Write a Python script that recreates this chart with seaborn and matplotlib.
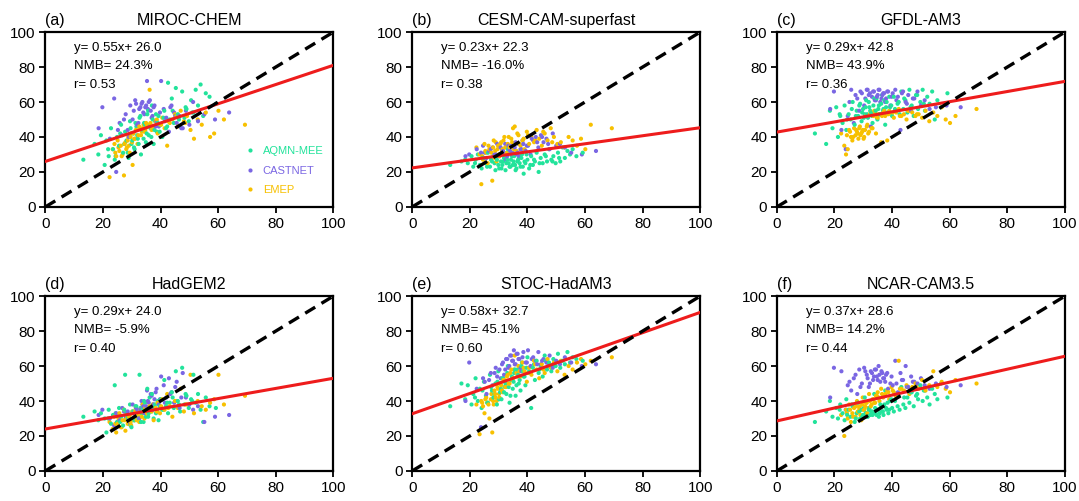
import numpy as np
import pandas as pd
import matplotlib
matplotlib.use("Agg")
import matplotlib.pyplot as plt
import seaborn as sns

# observed values (x), shared by all models
aq_x = [13.2, 17.1, 18.4, 19.3, 20.6, 21.2, 22.0, 22.8, 23.5, 24.1, 24.9, 25.6, 26.3, 27.0, 27.7,
        28.2, 28.9, 29.4, 29.9, 30.5, 31.0, 31.6, 32.1, 32.7, 33.2, 33.8, 34.3, 34.9, 35.4, 35.9,
        36.5, 37.0, 37.6, 38.1, 38.7, 39.3, 40.0, 40.6, 41.3, 41.9, 42.6, 43.2, 43.9, 44.6, 45.3,
        46.0, 46.8, 47.5, 48.3, 49.0, 49.8, 50.6, 51.4, 52.2, 53.0, 53.9, 54.8, 55.7, 57.0, 59.2]
aq_x2 = [21.8, 24.4, 26.0, 27.4, 28.6, 29.6, 30.2, 30.8, 31.3, 31.9, 32.4, 33.0, 33.5, 34.1, 34.6,
         35.2, 35.7, 36.2, 36.8, 37.3, 37.9, 38.4, 39.0, 39.7, 41.0, 42.3, 44.2, 46.4, 48.7, 51.0]
cn_x = [18.5, 19.8, 22.4, 23.9, 24.6, 25.8, 26.7, 27.9, 28.6, 29.5, 30.3, 31.2, 31.9, 32.6, 33.4,
        34.0, 34.7, 35.3, 35.9, 36.6, 37.2, 37.9, 38.6, 39.4, 40.2, 41.1, 42.0, 42.9, 43.8, 44.7,
        45.6, 46.6, 47.7, 48.8, 50.0, 51.3, 53.0, 55.2, 58.9, 63.8]
cn_x2 = [25.2, 27.3, 29.0, 30.7, 31.5, 32.3, 33.0, 33.7, 34.4, 35.0,
         35.6, 36.3, 36.9, 37.6, 38.3, 39.8, 41.5, 43.4, 45.1, 47.2]
em_x = [22.3, 23.4, 24.0, 24.6, 25.1, 25.7, 26.2, 26.8, 27.3, 27.8, 28.3, 28.8, 29.3, 29.8, 30.3,
        30.9, 31.4, 32.0, 32.6, 33.2, 33.8, 34.4, 35.0, 35.6, 36.2, 36.9, 37.6, 38.3, 39.0, 39.8,
        40.6, 41.4, 42.3, 43.2, 44.1, 45.0, 46.0, 47.0, 48.1, 49.2, 50.4, 51.6, 52.9, 54.3, 55.7,
        57.2, 58.6, 60.1, 62.0, 69.3]
em_x2 = [24.3, 25.4, 26.5, 27.5, 28.1, 28.6, 29.0, 29.6, 30.1, 30.6, 31.2, 31.7, 32.3,
         32.9, 33.5, 34.1, 34.7, 35.3, 36.5, 37.3, 38.7, 40.2, 42.7, 45.5, 48.6]

# modelled values (y) per model
aq_a = [27, 36, 30, 41, 24, 38, 29, 45, 33, 27, 40, 35, 47, 31, 43, 38, 28, 49, 36, 42,
        33, 46, 39, 51, 30, 44, 48, 37, 53, 41, 45, 58, 36, 49, 43, 52, 47, 40, 55, 45,
        71, 50, 62, 48, 68, 53, 46, 66, 51, 56, 49, 61, 54, 67, 58, 70, 52, 65, 63, 59]
aq_a2 = [33, 29, 42, 36, 31, 45, 38, 34, 48, 41, 36, 52, 44, 39, 47,
         42, 55, 46, 40, 50, 44, 53, 48, 43, 51, 46, 55, 50, 57, 54]
cn_a = [45, 57, 39, 62, 20, 48, 41, 53, 44, 58, 50, 61, 47, 56, 59, 54, 57, 72, 60, 55,
        52, 58, 49, 46, 72, 56, 51, 43, 58, 54, 48, 52, 45, 55, 47, 60, 49, 53, 50, 54]
cn_a2 = [44, 50, 40, 55, 59, 48, 57, 60, 53, 58, 56, 61, 51, 57, 46, 54, 49, 57, 52, 45]
em_a = [17, 33, 36, 29, 38, 32, 35, 30, 18, 37, 34, 40, 31, 42, 24, 39, 44, 36, 46, 41,
        45, 43, 48, 47, 67, 44, 46, 49, 42, 47, 51, 45, 35, 48, 50, 53, 46, 55, 49, 52,
        44, 39, 50, 47, 54, 40, 42, 55, 50, 47]
em_a2 = [31, 34, 29, 36, 33, 38, 35, 40, 37, 42, 39, 44, 41, 45, 43, 47, 44, 46, 48, 45,
         50, 47, 49, 52, 48]

aq_b = [24, 26, 27, 25, 29, 23, 27, 30, 24, 22, 28, 25, 31, 23, 26, 29, 21, 27, 24, 30,
        22, 26, 28, 25, 33, 23, 27, 24, 29, 21, 26, 28, 23, 30, 19, 25, 27, 22, 29, 24,
        26, 31, 20, 28, 25, 30, 26, 33, 27, 29, 25, 31, 26, 34, 28, 32, 30, 33, 29, 31]
aq_b2 = [25, 28, 23, 27, 25, 29, 22, 26, 24, 28, 21, 27, 25, 23, 29,
         26, 24, 22, 27, 25, 28, 23, 26, 30, 24, 27, 25, 29, 26, 28]
cn_b = [29, 30, 33, 31, 35, 28, 32, 34, 30, 36, 29, 33, 31, 27, 35, 32, 30, 34, 37, 31,
        29, 33, 36, 32, 35, 30, 38, 40, 34, 41, 37, 39, 33, 42, 35, 36, 34, 31, 30, 32]
cn_b2 = [31, 33, 30, 34, 32, 36, 29, 33, 35, 31, 34, 30, 36, 33, 38, 35, 39, 37, 40, 36]
em_b = [34, 30, 13, 27, 36, 31, 25, 33, 28, 15, 38, 32, 26, 35, 29, 37, 33, 40, 30, 36,
        34, 39, 45, 46, 32, 41, 35, 38, 33, 43, 36, 40, 37, 44, 39, 35, 42, 38, 45, 40,
        36, 37, 34, 40, 38, 35, 39, 33, 47, 45]
em_b2 = [29, 32, 35, 31, 34, 28, 37, 33, 30, 36, 32, 38, 34, 31, 40, 35, 37, 33, 42, 36,
         39, 41, 38, 43, 37]

aq_c = [42, 36, 55, 45, 57, 40, 52, 48, 58, 44, 53, 50, 60, 47, 55, 52, 59, 49, 56, 53,
        61, 51, 57, 54, 48, 62, 55, 50, 58, 53, 64, 56, 47, 60, 54, 57, 52, 63, 55, 59,
        53, 66, 56, 61, 54, 67, 58, 52, 64, 56, 60, 67, 55, 63, 59, 66, 50, 61, 57, 65]
aq_c2 = [53, 50, 56, 52, 58, 54, 51, 57, 53, 60, 55, 52, 58, 54, 62,
         56, 53, 59, 55, 61, 57, 54, 63, 58, 56, 60, 62, 57, 64, 59]
cn_c = [56, 66, 44, 33, 52, 67, 48, 62, 55, 65, 58, 67, 64, 46, 66, 61, 63, 67, 60, 64,
        65, 62, 66, 58, 65, 67, 63, 44, 66, 60, 64, 55, 62, 66, 58, 61, 56, 57, 58, 57]
cn_c2 = [60, 64, 66, 62, 67, 65, 63, 66, 61, 64, 67, 62, 65, 60, 66, 63, 61, 65, 59, 62]
em_c = [42, 35, 30, 33, 44, 40, 38, 45, 41, 43, 39, 46, 42, 44, 40, 52, 47, 43, 54, 45,
        55, 42, 51, 53, 37, 54, 52, 38, 55, 53, 51, 54, 56, 52, 53, 50, 55, 54, 52, 53,
        51, 55, 49, 54, 52, 57, 50, 48, 52, 56]
em_c2 = [41, 43, 40, 44, 42, 45, 41, 43, 39, 44, 46, 42, 53, 45, 52, 54, 51, 53, 52, 55,
         53, 54, 52, 55, 53]

aq_d = [31, 34, 29, 33, 30, 22, 35, 27, 32, 49, 28, 36, 31, 26, 55, 33, 30, 38, 25, 34,
        29, 37, 32, 55, 28, 35, 40, 31, 47, 33, 36, 44, 30, 38, 34, 29, 41, 35, 52, 37,
        33, 39, 45, 36, 57, 40, 34, 59, 38, 43, 36, 41, 55, 39, 44, 35, 28, 42, 37, 36]
aq_d2 = [30, 33, 28, 35, 31, 26, 34, 29, 37, 32, 30, 36, 33, 28, 39,
         35, 31, 42, 34, 38, 36, 33, 40, 37, 35, 39, 42, 38, 44, 40]
cn_d = [32, 35, 30, 26, 33, 29, 36, 31, 34, 27, 38, 32, 35, 30, 40, 37, 33, 46, 39, 44,
        35, 41, 47, 38, 54, 49, 42, 53, 45, 39, 51, 36, 56, 42, 38, 35, 37, 28, 31, 32]
cn_d2 = [31, 34, 29, 33, 36, 31, 35, 38, 33, 37, 40, 35, 43, 38, 45, 41, 39, 44, 48, 42]
em_d = [28, 24, 31, 22, 27, 33, 25, 29, 35, 23, 30, 27, 32, 26, 34, 29, 36, 31, 28, 33,
        38, 30, 35, 32, 37, 34, 29, 36, 39, 33, 41, 35, 44, 37, 31, 40, 36, 47, 34, 38,
        55, 33, 40, 37, 35, 39, 41, 55, 38, 43]
em_d2 = [27, 30, 25, 29, 32, 27, 31, 28, 33, 30, 34, 29, 32, 35, 31, 34, 36, 33, 35, 38,
         34, 37, 36, 40, 38]

aq_e = [37, 50, 41, 49, 38, 44, 53, 40, 47, 36, 51, 43, 39, 55, 46, 42, 50, 38, 57, 45,
        41, 53, 48, 44, 60, 39, 52, 47, 56, 43, 58, 50, 46, 62, 54, 49, 65, 57, 36, 59,
        52, 63, 56, 60, 54, 66, 58, 62, 57, 64, 60, 67, 59, 63, 61, 68, 62, 65, 64, 63]
aq_e2 = [42, 46, 39, 48, 44, 51, 41, 47, 53, 45, 50, 56, 48, 43, 54,
         51, 58, 49, 55, 52, 60, 57, 54, 59, 56, 61, 58, 63, 60, 62]
cn_e = [40, 62, 47, 25, 53, 44, 52, 49, 56, 54, 58, 61, 55, 64, 59, 66, 63, 69, 61, 67,
        64, 57, 68, 62, 69, 60, 65, 63, 68, 61, 64, 62, 66, 59, 63, 61, 65, 62, 60, 61]
cn_e2 = [51, 56, 59, 53, 62, 58, 64, 60, 66, 63, 61, 67, 64, 59, 65, 62, 64, 61, 63, 60]
em_e = [38, 21, 40, 37, 33, 42, 39, 30, 41, 22, 38, 44, 40, 47, 42, 49, 45, 52, 48, 55,
        50, 58, 53, 66, 56, 60, 54, 62, 57, 51, 59, 55, 63, 58, 53, 61, 56, 64, 59, 62,
        57, 63, 55, 60, 58, 62, 64, 61, 63, 65]
em_e2 = [39, 41, 38, 44, 40, 46, 42, 48, 44, 50, 46, 52, 48, 54, 50, 56, 52, 58, 54, 57,
         59, 56, 61, 58, 60]

aq_f = [28, 34, 40, 31, 36, 30, 38, 33, 29, 41, 35, 31, 37, 28, 33, 39, 30, 35, 32, 42,
        33, 31, 36, 34, 32, 44, 33, 35, 31, 38, 34, 32, 46, 35, 33, 40, 36, 34, 43, 37,
        35, 48, 38, 36, 42, 39, 45, 37, 43, 41, 49, 40, 46, 42, 38, 47, 44, 41, 50, 42]
aq_f2 = [35, 32, 38, 30, 34, 31, 36, 33, 31, 35, 32, 34, 33, 36, 32,
         35, 33, 37, 34, 38, 36, 39, 35, 41, 40, 43, 42, 45, 44, 46]
cn_f = [42, 59, 57, 35, 49, 46, 53, 44, 58, 50, 59, 55, 48, 57, 52, 58, 54, 60, 51, 56,
        53, 55, 47, 50, 49, 63, 45, 56, 52, 60, 48, 54, 51, 50, 53, 49, 47, 50, 48, 49]
cn_f2 = [51, 55, 48, 57, 53, 50, 56, 54, 58, 52, 55, 57, 53, 51, 56, 54, 50, 52, 48, 51]
em_f = [32, 20, 35, 30, 38, 28, 33, 36, 31, 40, 34, 37, 29, 42, 35, 39, 33, 44, 37, 41,
        39, 43, 45, 40, 47, 42, 44, 46, 41, 48, 45, 43, 63, 47, 46, 49, 44, 48, 50, 47,
        52, 46, 49, 57, 48, 51, 47, 45, 52, 50]
em_f2 = [33, 35, 31, 37, 34, 36, 32, 38, 35, 37, 39, 36, 40, 38, 41, 39, 43, 42, 44, 43,
         45, 46, 47, 48, 49]

models = ['MIROC-CHEM', 'CESM-CAM-superfast', 'GFDL-AM3', 'HadGEM2', 'STOC-HadAM3', 'NCAR-CAM3.5']
letters = ['(a)', '(b)', '(c)', '(d)', '(e)', '(f)']
slopes = [0.55, 0.23, 0.29, 0.29, 0.58, 0.37]
intercepts = [26.0, 22.3, 42.8, 24.0, 32.7, 28.6]
nmb = ['24.3%', '-16.0%', '43.9%', '-5.9%', '45.1%', '14.2%']
rvals = ['0.53', '0.38', '0.36', '0.40', '0.60', '0.44']
model_y = [(aq_a + aq_a2, cn_a + cn_a2, em_a + em_a2),
           (aq_b + aq_b2, cn_b + cn_b2, em_b + em_b2),
           (aq_c + aq_c2, cn_c + cn_c2, em_c + em_c2),
           (aq_d + aq_d2, cn_d + cn_d2, em_d + em_d2),
           (aq_e + aq_e2, cn_e + cn_e2, em_e + em_e2),
           (aq_f + aq_f2, cn_f + cn_f2, em_f + em_f2)]

networks = ['AQMN-MEE', 'CASTNET', 'EMEP']
colors = {'AQMN-MEE': '#22E39B', 'CASTNET': '#7A66E3', 'EMEP': '#F7C000'}
obs_x = [aq_x + aq_x2, cn_x + cn_x2, em_x + em_x2]

sns.set_style("ticks")
plt.rcParams['font.family'] = ['Liberation Sans', 'DejaVu Sans']
plt.rcParams['text.color'] = 'black'

fig = plt.figure(figsize=(10.79, 5.01), dpi=100)
lefts = [0.042, 0.382, 0.720]
bottoms = [0.587, 0.060]
W, H = 0.267, 0.349

for i, name in enumerate(models):
    ax = fig.add_axes([lefts[i % 3], bottoms[i // 3], W, H])
    frames = []
    for net, xs, ys in zip(networks, obs_x, model_y[i]):
        frames.append(pd.DataFrame({'obs': xs, 'mod': ys, 'net': net}))
    # sort by obs so the three networks are drawn interleaved
    df = pd.concat(frames, ignore_index=True).sort_values('obs', kind='stable')
    sns.scatterplot(data=df, x='obs', y='mod', hue='net', hue_order=networks, palette=colors, s=9,
                    linewidth=0, ax=ax, legend=(i == 0), zorder=2)

    xx = np.array([0, 100])
    ax.plot(xx, slopes[i] * xx + intercepts[i], color='#EE1C1C', lw=2.2, zorder=3)
    ax.plot(xx, xx, color='black', lw=2.4, ls=(0, (3.5, 2.2)), zorder=4)

    ax.set_xlim(0, 100)
    ax.set_ylim(0, 100)
    ax.set_xticks(range(0, 101, 20))
    ax.set_yticks(range(0, 101, 20))
    ax.set_xlabel('')
    ax.set_ylabel('')
    ax.tick_params(direction='out', length=4, width=1.3, labelsize=11, pad=3,
                   colors='black', labelcolor='black')
    for sp in ax.spines.values():
        sp.set_linewidth(1.6)
        sp.set_color('black')

    ax.set_title(name, fontsize=11.5, pad=5, color='black')
    ax.set_title(letters[i], loc='left', fontsize=11.5, pad=5, color='black')

    ax.text(0.10, 0.91, 'y= %.2fx+ %.1f' % (slopes[i], intercepts[i]), transform=ax.transAxes,
            fontsize=9.5, va='center')
    ax.text(0.10, 0.805, 'NMB= ' + nmb[i], transform=ax.transAxes, fontsize=9.5, va='center')
    ax.text(0.10, 0.70, 'r= ' + rvals[i], transform=ax.transAxes, fontsize=9.5, va='center')

    if i == 0:
        ax.legend(loc='lower right', bbox_to_anchor=(1.0, 0.01), frameon=False, fontsize=8,
                  markerscale=1.0, handletextpad=0.6, labelspacing=0.85, handlelength=1.0,
                  labelcolor='markerfacecolor', title=None)

fig.savefig('out.png', dpi=100)
